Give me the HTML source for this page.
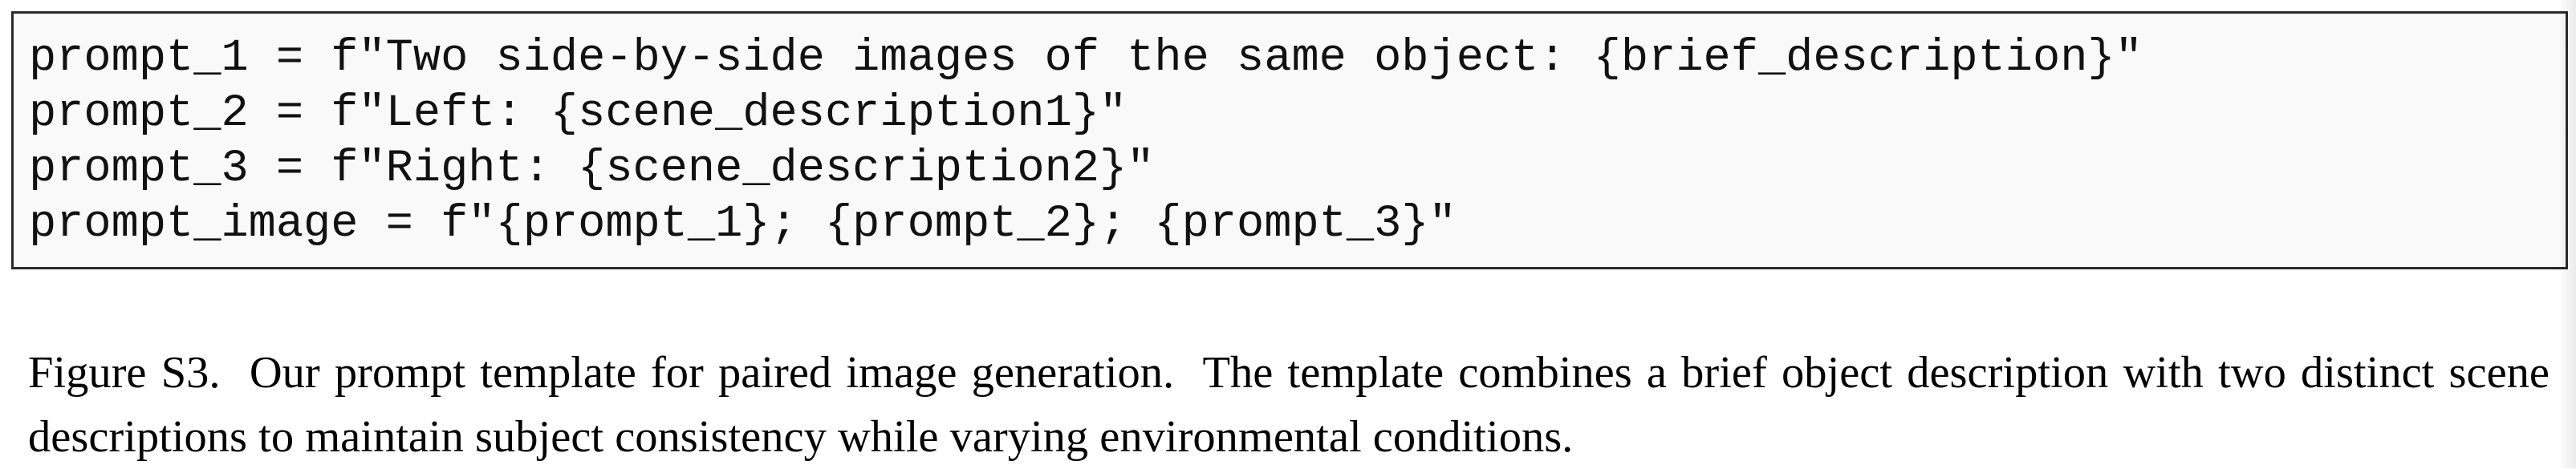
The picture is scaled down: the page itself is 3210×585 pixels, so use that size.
<!DOCTYPE html>
<html><head><meta charset="utf-8">
<style>
html,body{margin:0;padding:0;background:#fff;}
body{width:3210px;height:584px;position:relative;overflow:hidden;}
#box{position:absolute;left:14px;top:14px;width:3180px;height:316px;background:#f9f9f9;border:3px solid #2a2a2a;box-sizing:content-box;}
.code{position:absolute;left:19px;font-family:"Liberation Mono",monospace;font-size:57px;line-height:69px;color:#111;white-space:pre;}
.cap{position:absolute;left:35px;width:3142px;font-family:"Liberation Serif",serif;font-size:56.5px;line-height:80px;color:#000;white-space:nowrap;}
#shadow{position:absolute;right:0;top:0;width:22px;height:584px;background:linear-gradient(to right,rgba(0,0,0,0),rgba(0,0,0,0.08));}
</style></head>
<body>
<div id="box">
<div class="code" style="top:22px">prompt_1 = f"Two side-by-side images of the same object: {brief_description}"</div>
<div class="code" style="top:91px">prompt_2 = f"Left: {scene_description1}"</div>
<div class="code" style="top:160px">prompt_3 = f"Right: {scene_description2}"</div>
<div class="code" style="top:229px">prompt_image = f"{prompt_1}; {prompt_2}; {prompt_3}"</div>
</div>
<div class="cap" style="top:425px;text-align:justify;text-align-last:justify;white-space:normal">Figure S3.&nbsp; Our prompt template for paired image generation.&nbsp; The template combines a brief object description with two distinct scene</div>
<div class="cap" style="top:505px">descriptions to maintain subject consistency while varying environmental conditions.</div>
<div id="shadow"></div>
</body></html>
